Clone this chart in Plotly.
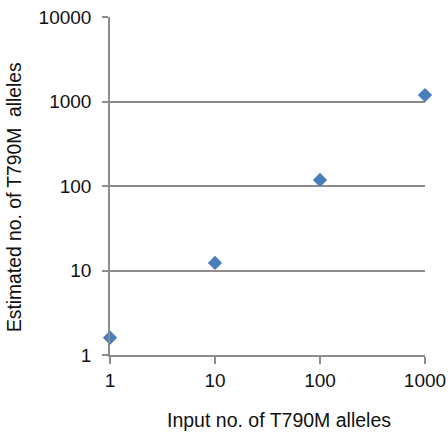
import plotly.graph_objects as go

input_alleles = [1, 10, 100, 1000]
estimated_alleles = [1.6, 12.3, 118, 1190]
y_ticks = [1, 10, 100, 1000, 10000]
x_ticks = [1, 10, 100, 1000]
x_title = "Input no. of T790M alleles"
y_title = "Estimated no. of T790M  alleles"

axis_color = "#8c8c8c"
family = "Liberation Sans, Arial, sans-serif"
tick_font = dict(family=family, size=19, color="#111111")
xtitle_font = dict(family=family, size=19.5, color="#111111")
ytitle_font = dict(family=family, size=19.3, color="#111111")

fig = go.Figure(go.Scatter(
    x=input_alleles, y=estimated_alleles, mode="markers",
    marker=dict(symbol="diamond", size=11, color="#4a7ebb"),
    cliponaxis=False,
))

fig.update_layout(
    width=448, height=436,
    margin=dict(l=110, r=23, t=17, b=81),
    paper_bgcolor="white", plot_bgcolor="white",
    showlegend=False, font=tick_font,
    annotations=[
        dict(text=x_title, xref="paper", yref="paper", x=0.535, y=-0.192,
             xanchor="center", yanchor="middle", showarrow=False, font=xtitle_font),
        dict(text=y_title, xref="paper", yref="paper", x=-0.305, y=0.467,
             xanchor="center", yanchor="middle", showarrow=False, textangle=-90,
             font=ytitle_font),
    ],
)
fig.update_xaxes(
    type="log", range=[0, 3], tickvals=x_ticks, ticktext=[str(v) for v in x_ticks],
    showgrid=False, zeroline=False, showline=True, linecolor=axis_color, linewidth=1.5,
    ticks="outside", ticklen=7, tickcolor=axis_color, tickwidth=1.5,
    ticklabelstandoff=0, tickfont=tick_font, automargin=False,
)
fig.update_yaxes(
    type="log", range=[0, 4], tickvals=y_ticks, ticktext=[str(v) for v in y_ticks],
    showgrid=True, gridcolor=axis_color, gridwidth=1.5, zeroline=False,
    showline=True, linecolor=axis_color, linewidth=1.5,
    ticks="outside", ticklen=6, tickcolor=axis_color, tickwidth=1.5,
    ticklabelstandoff=7, tickfont=tick_font, automargin=False,
)

fig.write_html("out.html")
